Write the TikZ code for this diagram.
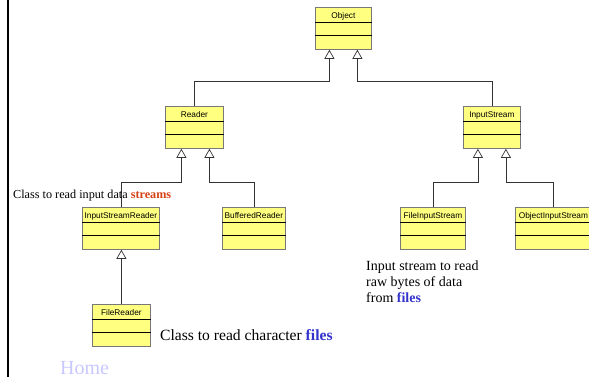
\documentclass[tikz,border=0pt]{standalone}
\usepackage{fontspec}
\setmainfont{Liberation Serif}
\setsansfont{Liberation Sans}
\usetikzlibrary{arrows.meta}
\usetikzlibrary{calc}
\definecolor{classfill}{RGB}{255,255,128}
\definecolor{classedge}{RGB}{120,120,120}
\definecolor{streamred}{RGB}{214,64,20}
\definecolor{fileblue}{RGB}{51,51,204}
\definecolor{homeblue}{RGB}{200,200,255}
\tikzset{
  umlclass/.style={draw=classedge, fill=classfill, line width=0.8pt, anchor=north west,
    inner xsep=1pt, inner ysep=0pt, text height=11pt, text depth=31pt,
    font=\sffamily\fontsize{8.3}{9}\selectfont},
  inherit/.style={-{Triangle[open, length=9pt, width=10pt]}, draw=black!80, line width=0.7pt},
  note/.style={inner sep=0pt, anchor=base west, align=left},
}
\begin{document}
\begin{tikzpicture}[x=1pt, y=-1pt]
  \useasboundingbox (0,0) rectangle (589,377);
  \draw[line width=2.5pt] (8,0) -- (8,377);
  % classes
  \node[umlclass, minimum width=56] (object) at (315,7) {Object};
  \node[umlclass, minimum width=58] (reader) at (165,106) {Reader};
  \node[umlclass, minimum width=57] (instream) at (463,106) {InputStream};
  \node[umlclass, minimum width=77] (isreader) at (82,207) {InputStreamReader};
  \node[umlclass, minimum width=63] (bufreader) at (222,207) {BufferedReader};
  \node[umlclass, minimum width=65] (fistream) at (400,207) {FileInputStream};
  \node[umlclass, minimum width=76] (oistream) at (515,207) {ObjectInputStream};
  \node[umlclass, minimum width=58] (freader) at (92,304) {FileReader};
  \foreach \c in {object,reader,instream,isreader,bufreader,fistream,oistream,freader}{
    \draw ($(\c.north west)+(0,15.5)$) -- ($(\c.north east)+(0,15.5)$);
    \draw ($(\c.north west)+(0,28.5)$) -- ($(\c.north east)+(0,28.5)$);
  }
  % inheritance
  \draw[inherit] (reader.north) -- ++(0,-25) -| ($(object.south)+(-14,0)$);
  \draw[inherit] (instream.north) -- ++(0,-25) -| ($(object.south)+(14,0)$);
  \draw[inherit] (isreader.north) -- ++(0,-25) -| ($(reader.south)+(-13,0)$);
  \draw[inherit] (bufreader.north) -- ++(0,-25) -| ($(reader.south)+(15,0)$);
  \draw[inherit] (fistream.north) -- ++(0,-25) -| ($(instream.south)+(-14,0)$);
  \draw[inherit] (oistream.north) -- ++(0,-25) -| ($(instream.south)+(14,0)$);
  \draw[inherit] (freader.north) -- (freader.north |- isreader.south);
  % notes
  \node[note, font=\fontsize{12.2}{14}\selectfont] (isrnote) at (13,198)
    {Class to read input data \textcolor{streamred}{\textbf{streams}}};
  \node[note, font=\fontsize{15.6}{18}\selectfont] (frnote) at (160,340)
    {Class to read character \textcolor{fileblue}{\textbf{files}}};
  \node[note, anchor=north west, font=\fontsize{14}{16}\selectfont] (fisnote) at (366,261)
    {Input stream to read\\raw bytes of data\\from \textcolor{fileblue}{\textbf{files}}};
  \node[note, font=\fontsize{20}{22}\selectfont, text=homeblue] (home) at (60,374) {Home};
\end{tikzpicture}
\end{document}
